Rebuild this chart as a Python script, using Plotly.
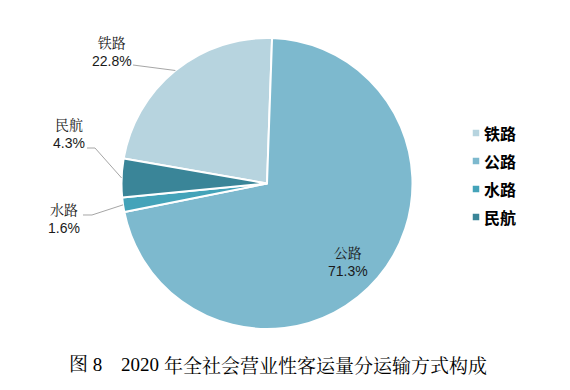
import math
import plotly.graph_objects as go

# ---------------- data ----------------
labels = ["铁路", "公路", "水路", "民航"]
values = [22.8, 71.3, 1.6, 4.3]
percent_text = ["22.8%", "71.3%", "1.6%", "4.3%"]
colors = ["#b7d4df", "#7db9ce", "#44a3b9", "#3a8598"]
fig_no = "图 8"
cap_year = "2020"
cap_text = "年全社会营业性客运量分运输方式构成"

# ---------------- layout constants (pixels) ----------------
W, H = 570, 390
CX, CY, R = 267, 183.5, 145.5
START = 2.0  # where 公路 begins, degrees clockwise from 12 o'clock

LABEL_POS = {
    "铁路": dict(text=(112, 52), path=[(133, 65)]),
    "民航": dict(text=(69, 134), path=[(95, 148), (87, 148)]),
    "水路": dict(text=(64, 219), path=[(92, 215), (83, 215)]),
    "公路": dict(text=(348, 262), path=[]),
}
LEGEND_X, LEGEND_Y0, LEGEND_DY, SQ = 476, 133, 28, 6.5

def px(x):
    return x / W

def py(y):
    return 1 - y / H

total = sum(values)
rotation = START - 360 * values[0] / total

fig = go.Figure(
    go.Pie(
        labels=labels,
        values=values,
        sort=False,
        direction="clockwise",
        rotation=rotation,
        marker=dict(colors=colors, line=dict(color="white", width=2)),
        textinfo="none",
        hoverinfo="label+percent",
        showlegend=False,
        domain=dict(x=[px(CX - R), px(CX + R)], y=[py(CY + R), py(CY - R)]),
    )
)

shapes = []
annotations = []
label_font = dict(family="Liberation Sans, Noto Serif CJK SC, Noto Sans CJK SC, sans-serif",
                  size=14, color="#1a1a1a")

ang = rotation
for lab, val, pct in zip(labels, values, percent_text):
    span = 360 * val / total
    mid = math.radians(ang + span / 2)
    ang += span
    ex = CX + R * math.sin(mid)
    ey = CY - R * math.cos(mid)
    cfg = LABEL_POS[lab]
    if cfg["path"]:
        pts = [(ex, ey)] + cfg["path"]
        d = "M " + " L ".join(f"{px(a):.5f},{py(b):.5f}" for a, b in pts)
        shapes.append(dict(type="path", path=d, xref="paper", yref="paper",
                           line=dict(color="#a6a6a6", width=1)))
    tx, ty = cfg["text"]
    annotations.append(dict(text=f"{lab}<br>{pct}", x=px(tx), y=py(ty), xref="paper", yref="paper",
                            xanchor="center", yanchor="middle", showarrow=False, align="center",
                            font=label_font))

# manual legend
for i, (lab, col) in enumerate(zip(labels, colors)):
    yc = LEGEND_Y0 + i * LEGEND_DY
    shapes.append(dict(type="rect", xref="paper", yref="paper",
                       x0=px(LEGEND_X - SQ / 2), x1=px(LEGEND_X + SQ / 2),
                       y0=py(yc + SQ / 2), y1=py(yc - SQ / 2),
                       fillcolor=col, line=dict(width=0)))
    annotations.append(dict(text=lab, x=px(LEGEND_X + 6), y=py(yc), xref="paper", yref="paper",
                            xanchor="left", yanchor="middle", showarrow=False,
                            font=dict(family="Noto Sans CJK SC, sans-serif", size=16,
                                      color="#000000", weight="bold")))

# caption
cap_font = dict(family="Liberation Serif, Noto Serif CJK SC, Noto Sans CJK SC, serif", size=19, color="#000000")
cap_font_cjk = dict(family="Noto Serif CJK SC, Noto Sans CJK SC, serif", size=19, color="#000000")
for txt, x0, fnt in [(fig_no, 67, cap_font), (cap_year, 119, cap_font), (cap_text, 162, cap_font_cjk)]:
    annotations.append(dict(text=txt, x=px(x0), y=py(364), xref="paper", yref="paper",
                            xanchor="left", yanchor="middle", showarrow=False, font=fnt))

fig.update_layout(
    width=W, height=H,
    margin=dict(l=0, r=0, t=0, b=0),
    paper_bgcolor="white", plot_bgcolor="white",
    shapes=shapes, annotations=annotations,
    showlegend=False,
)

fig.write_html("out.html", config={"displayModeBar": False},
               post_script="document.body.style.margin='0';document.body.style.padding='0';")
